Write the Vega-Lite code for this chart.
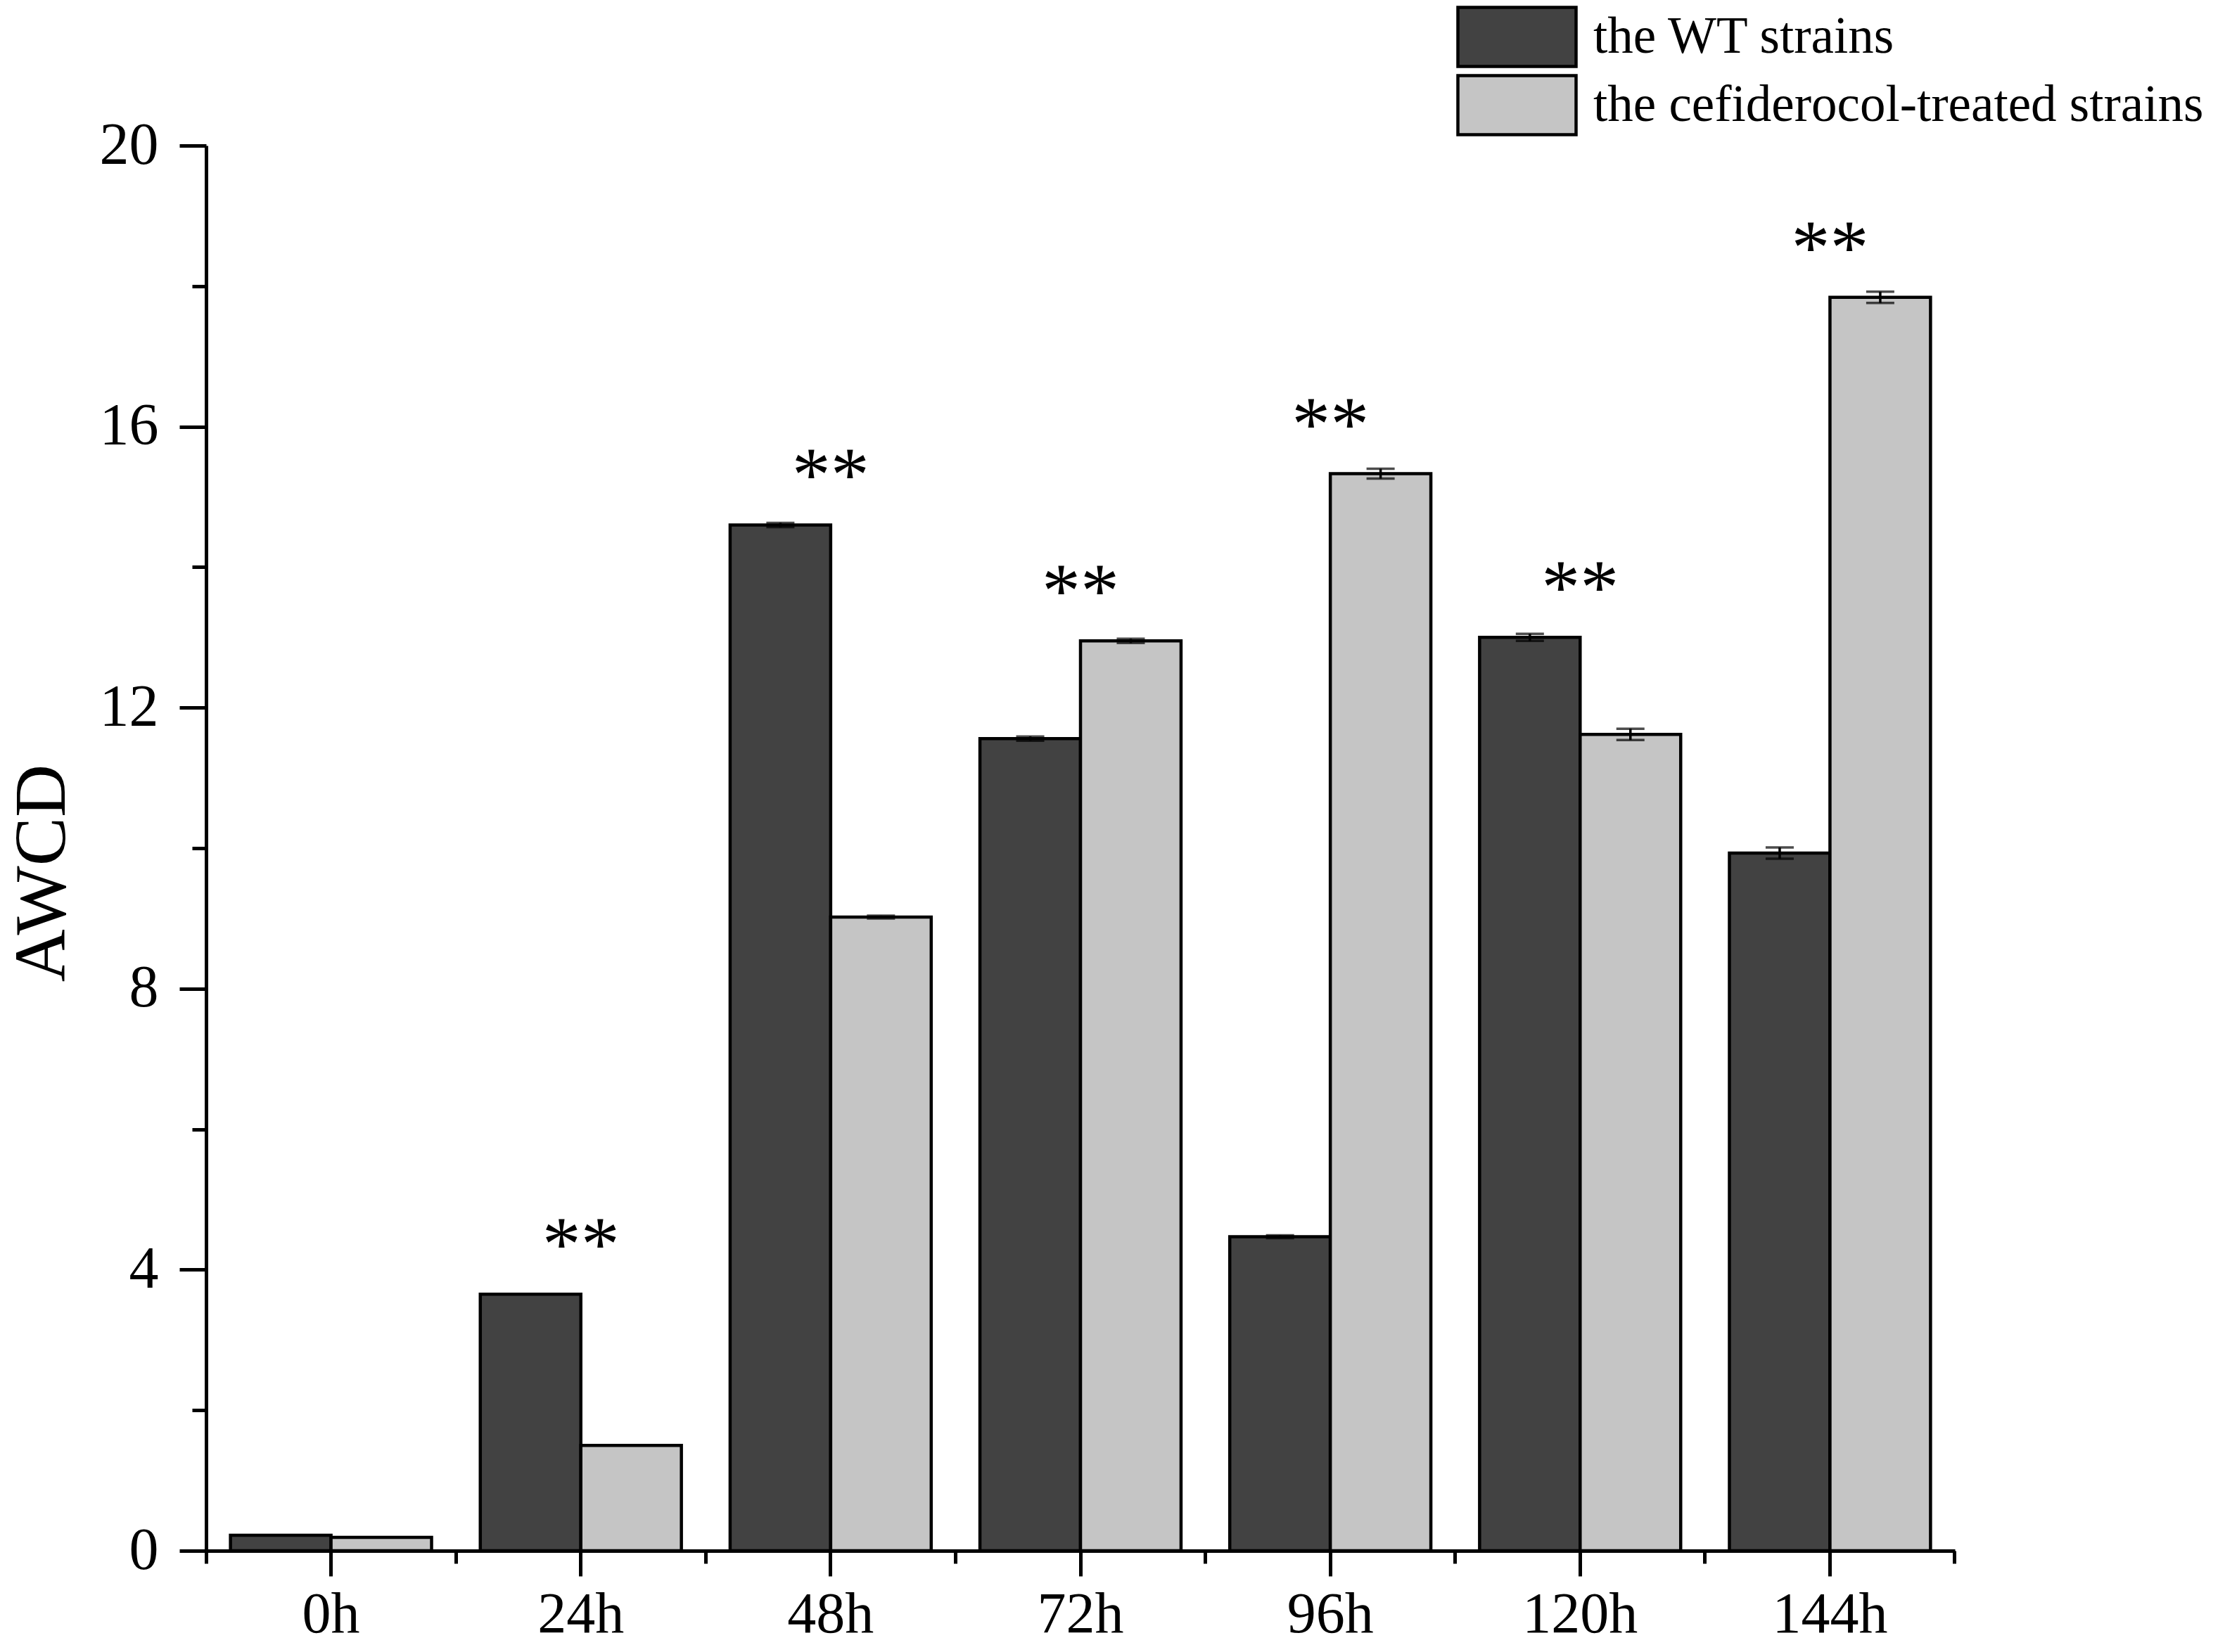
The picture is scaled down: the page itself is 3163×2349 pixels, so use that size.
{
  "$schema": "https://vega.github.io/schema/vega-lite/v6.json",
  "width": 2486,
  "height": 1998,
  "autosize": "none",
  "padding": {"left": 293, "top": 207, "right": 384, "bottom": 144},
  "background": "white",
  "data": {
    "values": [
      {"time": "0h", "group": "the WT strains", "value": 0.22, "err": 0, "sig": ""},
      {"time": "0h", "group": "the cefiderocol-treated strains", "value": 0.19, "err": 0, "sig": ""},
      {"time": "24h", "group": "the WT strains", "value": 3.65, "err": 0, "sig": "**"},
      {"time": "24h", "group": "the cefiderocol-treated strains", "value": 1.5, "err": 0, "sig": ""},
      {"time": "48h", "group": "the WT strains", "value": 14.6, "err": 0.03, "sig": "**"},
      {"time": "48h", "group": "the cefiderocol-treated strains", "value": 9.02, "err": 0.02, "sig": ""},
      {"time": "72h", "group": "the WT strains", "value": 11.56, "err": 0.03, "sig": "**"},
      {"time": "72h", "group": "the cefiderocol-treated strains", "value": 12.95, "err": 0.03, "sig": ""},
      {"time": "96h", "group": "the WT strains", "value": 4.47, "err": 0.02, "sig": "**"},
      {"time": "96h", "group": "the cefiderocol-treated strains", "value": 15.33, "err": 0.07, "sig": ""},
      {"time": "120h", "group": "the WT strains", "value": 13.0, "err": 0.05, "sig": "**"},
      {"time": "120h", "group": "the cefiderocol-treated strains", "value": 11.62, "err": 0.08, "sig": ""},
      {"time": "144h", "group": "the WT strains", "value": 9.93, "err": 0.08, "sig": "**"},
      {"time": "144h", "group": "the cefiderocol-treated strains", "value": 17.84, "err": 0.08, "sig": ""}
    ]
  },
  "layer": [
    {
      "mark": {"type": "bar", "stroke": "black", "strokeWidth": 4.5},
      "encoding": {
        "x": {
          "field": "time", "type": "nominal",
          "sort": ["0h", "24h", "48h", "72h", "96h", "120h", "144h"],
          "scale": {"paddingInner": 0.195, "paddingOuter": 0.0975},
          "axis": {
            "orient": "bottom", "title": null, "labelAngle": 0,
            "tickSize": 36, "tickWidth": 5, "domainWidth": 5,
            "labelFontSize": 82, "labelPadding": 14
          }
        },
        "xOffset": {
          "field": "group", "type": "nominal",
          "sort": ["the WT strains", "the cefiderocol-treated strains"],
          "scale": {"paddingInner": 0, "paddingOuter": 0}
        },
        "y": {
          "field": "value", "type": "quantitative",
          "scale": {"domain": [0, 20], "nice": false},
          "axis": {
            "orient": "left", "title": "AWCD", "values": [0, 4, 8, 12, 16, 20],
            "tickSize": 38, "tickWidth": 5, "domainWidth": 5,
            "labelFontSize": 84, "labelPadding": 30,
            "titleFontSize": 104, "titlePadding": 28, "titleY": 1034
          }
        },
        "color": {
          "field": "group", "type": "nominal",
          "sort": ["the WT strains", "the cefiderocol-treated strains"],
          "scale": {
            "domain": ["the WT strains", "the cefiderocol-treated strains"],
            "range": ["#424242", "#c5c5c5"]
          },
          "legend": {
            "title": null, "orient": "none", "legendX": 1819, "legendY": -199,
            "symbolType": "M-2,-1H2V1H-2Z", "symbolSize": 7056,
            "symbolStrokeColor": "black", "symbolStrokeWidth": 4.5, "symbolOpacity": 1,
            "labelFontSize": 73, "labelOffset": 64, "rowPadding": -6,
            "labelLimit": 0, "padding": 0
          }
        }
      }
    },
    {
      "mark": {
        "type": "errorbar",
        "color": "black",
        "ticks": {"size": 40, "thickness": 3.5, "color": "black"},
        "rule": {"strokeWidth": 3.5, "color": "black"}
      },
      "encoding": {
        "x": {
          "field": "time", "type": "nominal",
          "sort": ["0h", "24h", "48h", "72h", "96h", "120h", "144h"],
          "axis": {
            "orient": "bottom", "title": null, "labels": false, "domain": false,
            "values": ["144h"], "bandPosition": 1.1211, "tickSize": 18, "tickWidth": 5
          }
        },
        "xOffset": {"field": "group", "type": "nominal", "sort": ["the WT strains", "the cefiderocol-treated strains"]},
        "y": {"field": "value", "type": "quantitative", "axis": null},
        "yError": {"field": "err"}
      }
    },
    {
      "transform": [
        {"joinaggregate": [{"op": "max", "field": "value", "as": "top"}], "groupby": ["time"]},
        {"filter": "datum.sig != ''"}
      ],
      "mark": {"type": "text", "fontSize": 110, "baseline": "alphabetic", "align": "center", "dy": -34, "color": "black"},
      "encoding": {
        "x": {
          "field": "time", "type": "nominal",
          "sort": ["0h", "24h", "48h", "72h", "96h", "120h", "144h"],
          "axis": {
            "orient": "bottom", "title": null, "labels": false, "domain": false,
            "bandPosition": -0.1211, "tickSize": 18, "tickWidth": 5
          }
        },
        "y": {
          "field": "top", "type": "quantitative",
          "axis": {
            "orient": "left", "title": null, "labels": false, "domain": false,
            "values": [2, 6, 10, 14, 18], "tickSize": 20, "tickWidth": 5
          }
        },
        "text": {"field": "sig"}
      }
    }
  ],
  "resolve": {"axis": {"x": "independent", "y": "independent"}},
  "config": {
    "font": "Liberation Serif",
    "view": {"stroke": null},
    "axis": {
      "grid": false,
      "domainColor": "black", "tickColor": "black",
      "labelColor": "black", "titleColor": "black",
      "labelFont": "Liberation Serif", "titleFont": "Liberation Serif",
      "titleFontWeight": "normal"
    },
    "legend": {"labelFont": "Liberation Serif", "labelColor": "black"},
    "text": {"font": "Liberation Serif"}
  }
}
